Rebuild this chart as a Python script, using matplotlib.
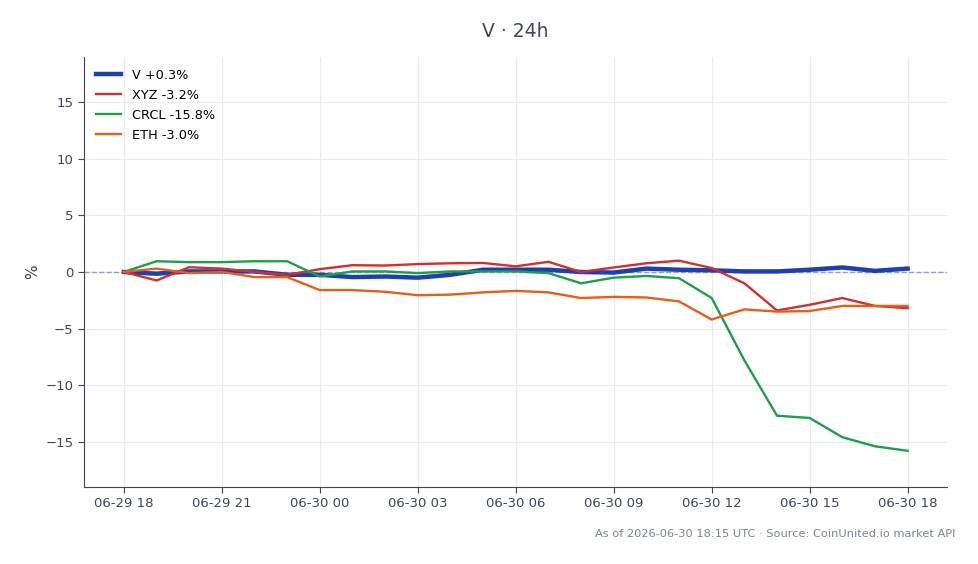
import matplotlib
matplotlib.use("Agg")
import matplotlib.pyplot as plt
import matplotlib.dates as mdates
import pandas as pd

# hourly % change vs start, 06-29 18:00 -> 06-30 18:00
times = pd.date_range("2026-06-29 18:00", "2026-06-30 18:00", freq="h")

v = [0.0, -0.15, 0.05, 0.05, 0.05, -0.25, -0.25, -0.45, -0.4, -0.5, -0.25, 0.2, 0.2,
     0.2, 0.0, -0.05, 0.3, 0.2, 0.15, 0.05, 0.05, 0.2, 0.4, 0.1, 0.3]
xyz = [0.0, -0.75, 0.42, 0.3, 0.0, -0.25, 0.25, 0.6, 0.57, 0.7, 0.77, 0.8, 0.5,
       0.9, 0.0, 0.4, 0.77, 1.0, 0.35, -1.0, -3.4, -2.9, -2.3, -3.0, -3.2]
crcl = [0.0, 0.95, 0.87, 0.87, 0.95, 0.95, -0.4, 0.05, 0.05, -0.1, 0.05, 0.05, 0.05,
        -0.1, -1.0, -0.5, -0.35, -0.55, -2.3, -7.8, -12.7, -12.9, -14.6, -15.4, -15.8]
eth = [0.0, 0.3, -0.1, 0.0, -0.45, -0.45, -1.6, -1.6, -1.75, -2.05, -2.0, -1.8, -1.67,
       -1.8, -2.3, -2.2, -2.25, -2.6, -4.2, -3.3, -3.5, -3.45, -3.0, -3.0, -3.0]

labels = ["V +0.3%", "XYZ -3.2%", "CRCL -15.8%", "ETH -3.0%"]
colors = ["#1e40af", "#d03030", "#1f9e4a", "#e4601a"]
widths = [3.2, 1.7, 1.7, 1.7]

fig = plt.figure(figsize=(9.79, 5.64), dpi=100)
ax = fig.add_axes([0.0858, 0.1365, 0.882, 0.7625])

ax.axhline(0, color="#94a3b8", lw=1, ls="--", zorder=1)
for ys, lab, c, w in zip([v, xyz, crcl, eth], labels, colors, widths):
    ax.plot(times, ys, color=c, lw=w, label=lab, zorder=3)

ax.set_ylim(-19, 19)
ax.set_xlim(times[0] - pd.Timedelta(hours=1.22), times[-1] + pd.Timedelta(hours=1.22))
ax.set_yticks([-15, -10, -5, 0, 5, 10, 15])
ax.xaxis.set_major_locator(mdates.HourLocator(byhour=range(0, 24, 3)))
ax.xaxis.set_major_formatter(mdates.DateFormatter("%m-%d %H"))

ax.grid(True, color="#e8ebef", lw=0.8)
ax.set_axisbelow(True)
for s in ["top", "right"]:
    ax.spines[s].set_visible(False)
for s in ["left", "bottom"]:
    ax.spines[s].set_color("#3b4656")
ax.tick_params(colors="#3b4656", labelsize=9.5, length=4)
ax.set_ylabel("%", color="#3b4656", fontsize=11)

ax.legend(loc="upper left", frameon=False, fontsize=9.3, handlelength=2.0,
          borderaxespad=0.5, labelspacing=0.55)

fig.text(0.526, 0.945, "V · 24h", ha="center", va="center", fontsize=13.5, color="#3b4a5e")
fig.text(0.976, 0.054, "As of 2026-06-30 18:15 UTC · Source: CoinUnited.io market API",
         ha="right", va="center", fontsize=8.2, color="#7a8493")

fig.savefig("out.png", dpi=100)
